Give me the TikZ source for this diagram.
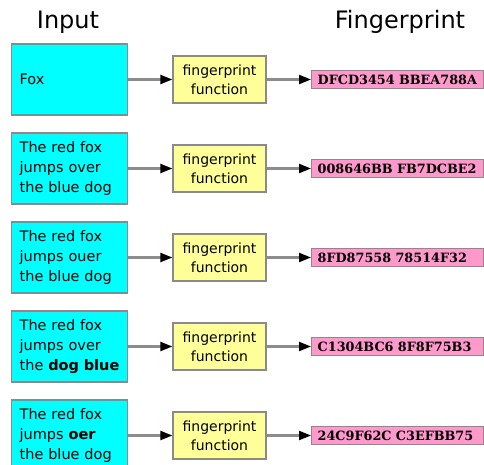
\documentclass[tikz,border=0pt]{standalone}
\usepackage{fontspec}
\setmainfont{DejaVu Sans}
\newfontfamily\hashfont{DejaVu Serif}
\usetikzlibrary{arrows.meta}
\definecolor{incyan}{HTML}{00FFFF}
\definecolor{fnyellow}{HTML}{FFFF99}
\definecolor{fppink}{HTML}{FF99CC}
\definecolor{bordergray}{HTML}{8A8A8A}
\definecolor{linegray}{HTML}{8C8C8C}
\tikzset{
  inbox/.style={draw=bordergray, line width=1.3pt, fill=incyan, minimum width=116pt, minimum height=71pt,
    text width=100pt, inner xsep=8pt, align=left, font=\fontsize{14.5}{20}\selectfont, anchor=west},
  fnbox/.style={draw=bordergray, line width=1.3pt, fill=fnyellow, minimum width=93pt, minimum height=47pt,
    inner sep=2pt, align=center, font=\fontsize{14}{19}\selectfont},
  fpbox/.style={draw=bordergray, line width=1.3pt, fill=fppink, minimum width=172pt, minimum height=18pt,
    inner xsep=6pt, inner ysep=0pt, text width=160pt, align=left, anchor=west, font=\hashfont\bfseries\fontsize{12.8}{14}\selectfont},
  title/.style={font=\fontsize{24}{26}\selectfont},
  conn/.style={draw=linegray, line width=2.2pt, -{Triangle[length=12pt,width=9pt,color=black]}}
}
\begin{document}
\begin{tikzpicture}[x=1pt,y=-1pt]
\useasboundingbox (0,0) rectangle (484,465);
\clip (0,0) rectangle (484,465);
\node[title] (tin) at (68,22) {Input};
\node[title] (tfp) at (400,22) {Fingerprint};
\foreach \i/\txt/\hash in {
  1/{Fox}/{DFCD3454 BBEA788A},
  2/{The red fox\\jumps over\\the blue dog}/{008646BB FB7DCBE2},
  3/{The red fox\\jumps ouer\\the blue dog}/{8FD87558 78514F32},
  4/{The red fox\\jumps over\\the \textbf{dog blue}}/{C1304BC6 8F8F75B3},
  5/{The red fox\\jumps \textbf{oer}\\the blue dog}/{24C9F62C C3EFBB75}} {
  \pgfmathsetmacro{\cy}{79.5+89*(\i-1)}
  \node[inbox] (in\i) at (11,\cy) {\txt};
  \node[fnbox] (fn\i) at (219.5,\cy) {fingerprint\\function};
  \node[fpbox] (fp\i) at (311,\cy) {\makebox[0pt][l]{\hash}};
  \draw[conn] (in\i) -- (fn\i);
  \draw[conn] (fn\i) -- (fp\i);
}
\end{tikzpicture}
\end{document}
